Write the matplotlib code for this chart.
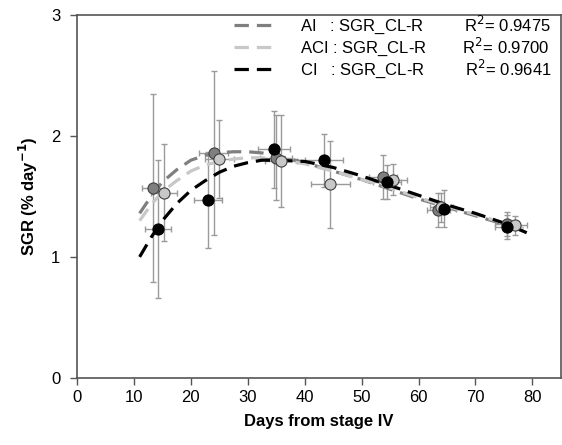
import numpy as np
import matplotlib.pyplot as plt

plt.rcParams['font.family'] = ['Liberation Sans', 'DejaVu Sans']

# Observed means (days from stage IV, SGR) with error bars
ai_days = [13.3, 24.0, 35.0, 53.8, 63.5, 75.5]
ai_sgr = [1.57, 1.86, 1.82, 1.66, 1.39, 1.27]
ai_yerr = [0.78, 0.68, 0.35, 0.18, 0.14, 0.10]
ai_xerr = [1.9, 2.5, 2.8, 2.5, 2.0, 2.0]

aci_days = [15.3, 25.0, 35.8, 44.5, 55.5, 64.0, 77.0]
aci_sgr = [1.53, 1.81, 1.79, 1.60, 1.64, 1.41, 1.26]
aci_yerr = [0.40, 0.32, 0.38, 0.36, 0.13, 0.12, 0.08]
aci_xerr = [2.3, 2.5, 2.8, 3.4, 2.5, 2.0, 2.0]

ci_days = [14.3, 23.0, 34.6, 43.4, 54.5, 64.5, 75.5]
ci_sgr = [1.23, 1.47, 1.89, 1.80, 1.62, 1.40, 1.25]
ci_yerr = [0.57, 0.40, 0.32, 0.22, 0.14, 0.15, 0.10]
ci_xerr = [2.3, 2.5, 2.8, 3.4, 2.5, 2.0, 2.0]

# Fitted curves
fit_days = [11, 13, 15, 17.5, 20, 22.5, 25, 27.5, 30, 32.5, 35, 40, 45, 50, 55, 60, 65, 70, 75, 79]
ai_fit = [1.36, 1.50, 1.62, 1.72, 1.80, 1.84, 1.86, 1.87, 1.87, 1.86, 1.84, 1.78, 1.71, 1.64, 1.56, 1.48, 1.41, 1.34, 1.27, 1.21]
aci_fit = [1.30, 1.43, 1.54, 1.63, 1.71, 1.76, 1.79, 1.81, 1.82, 1.82, 1.81, 1.77, 1.71, 1.64, 1.57, 1.49, 1.42, 1.35, 1.28, 1.23]
ci_fit = [1.00, 1.16, 1.30, 1.44, 1.55, 1.63, 1.70, 1.75, 1.78, 1.80, 1.80, 1.79, 1.74, 1.67, 1.59, 1.51, 1.43, 1.36, 1.28, 1.20]

labels = ['AI   : SGR_CL-R         R$^2$= 0.9475',
          'ACI : SGR_CL-R        R$^2$= 0.9700',
          'CI   : SGR_CL-R         R$^2$= 0.9641']

fig = plt.figure(figsize=(5.62, 4.45), dpi=100)
ax = fig.add_axes([0.137, 0.151, 0.861, 0.815])

err_kw = dict(fmt='none', ecolor='#9a9a9a', elinewidth=1.0, capsize=2.5, capthick=1.0, zorder=2)
ax.errorbar(ai_days, ai_sgr, yerr=ai_yerr, xerr=ai_xerr, **err_kw)
ax.errorbar(aci_days, aci_sgr, yerr=aci_yerr, xerr=aci_xerr, **err_kw)
ax.errorbar(ci_days, ci_sgr, yerr=ci_yerr, xerr=ci_xerr, **err_kw)

dash = (0, (4.5, 2.5))
ax.plot(fit_days, ai_fit, color='#7f7f7f', lw=2.3, linestyle=dash, label=labels[0], zorder=3)
ax.plot(fit_days, aci_fit, color='#c8c8c8', lw=2.3, linestyle=dash, label=labels[1], zorder=3)
ax.plot(fit_days, ci_fit, color='black', lw=2.3, linestyle=dash, label=labels[2], zorder=3)

ax.plot(ai_days, ai_sgr, 'o', color='#7f7f7f', mec='#404040', mew=0.8, ms=8, zorder=4)
ax.plot(aci_days, aci_sgr, 'o', color='#c8c8c8', mec='#404040', mew=0.8, ms=8, zorder=4)
ax.plot(ci_days, ci_sgr, 'o', color='black', mec='black', mew=0.8, ms=8, zorder=5)

ax.set_xlim(0, 85)
ax.set_ylim(0, 3)
ax.set_xticks([0, 10, 20, 30, 40, 50, 60, 70, 80])
ax.set_yticks([0, 1, 2, 3])
ax.tick_params(direction='out', length=5, width=1, color='#555555', labelsize=12)
ax.tick_params(axis='x', pad=4)
ax.tick_params(axis='y', pad=7)
for s in ax.spines.values():
    s.set_color('#555555')
    s.set_linewidth(1.2)

ax.set_xlabel('Days from stage IV', fontsize=12, fontweight='bold', labelpad=6)
ax.set_ylabel('SGR (% day$^{\\mathbf{-1}}$)', fontsize=12, fontweight='bold', labelpad=8)

ax.legend(loc='upper right', frameon=False, fontsize=12, handlelength=2.6,
          handletextpad=1.4, labelspacing=0.0, borderaxespad=0.0, borderpad=0.1,
          bbox_to_anchor=(0.985, 1.01))

fig.savefig('out.png', dpi=100)
